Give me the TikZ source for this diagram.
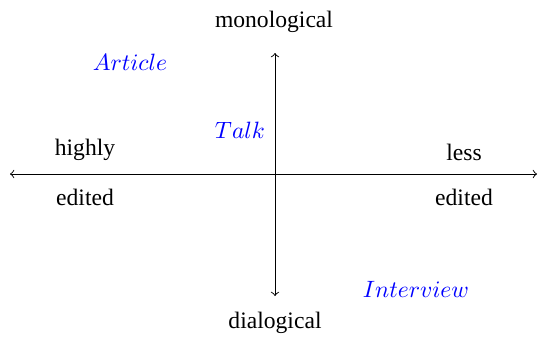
\documentclass[tikz,border=0pt]{standalone}
\usepackage{fontspec}
\setmainfont{Liberation Serif}
\usepackage{xcolor}
\usepackage{tikz}

\begin{document}
\begin{tikzpicture}[x=0.0149cm, y=-0.0149cm, >=to,
    genre/.style={text=blue},
    pole/.style={}]
  \useasboundingbox (0,0) rectangle (540,336);
  % ------- axes -------
  \coordinate (west) at (10,174);
  \coordinate (east) at (537,174);
  \coordinate (north) at (275,53);
  \coordinate (south) at (275,296);
  \draw[<->] (west) -- (east);
  \draw[<->] (south) -- (north);
  % ------- poles -------
  \node[pole] (mono) at (274,22) {monological};
  \node[pole] (dia) at (275,323) {dialogical};
  \node[pole] (highly) at (85,150) {highly};
  \node[pole] (editedL) at (85,197) {edited};
  \node[pole] (less) at (464,152) {less};
  \node[pole] (editedR) at (464,197) {edited};
  % ------- genres -------
  \node[genre] (article) at (130,62) {$Article$};
  \node[genre] (talk) at (240,130) {$Talk$};
  \node[genre] (interview) at (416,289) {$Interview$};
\end{tikzpicture}
\end{document}
